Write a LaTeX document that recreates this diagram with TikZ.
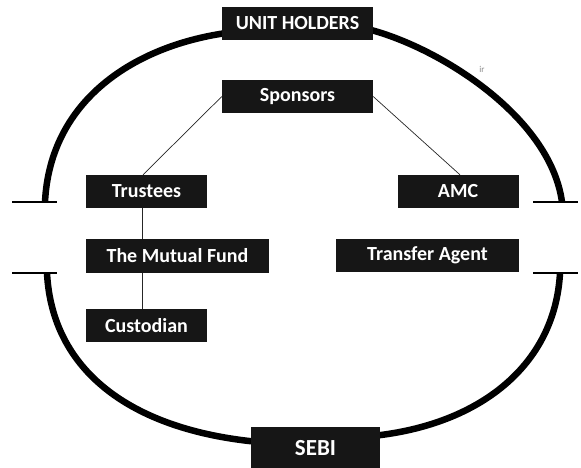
\documentclass[tikz,border=0pt]{standalone}
\usepackage{fontspec}
\setmainfont{Carlito}
\usetikzlibrary{backgrounds}
\definecolor{boxfill}{HTML}{161616}
\tikzset{
  party/.style={fill=boxfill, draw=none, text=white, inner sep=0pt,
    font=\fontsize{20}{22}\selectfont\bfseries, anchor=center},
  ring/.style={line width=6.5pt, black, line cap=butt},
  link/.style={line width=0.7pt, black!85},
  stub/.style={line width=1.5pt, black},
}
\begin{document}
\begin{tikzpicture}[x=1pt, y=-1pt]
  \useasboundingbox (0,0) rectangle (581,467);

  % the parties
  \node[party, minimum width=151pt, minimum height=33pt] (uh) at (297.5,23.5) {\raisebox{-1.5pt}{UNIT HOLDERS}};
  \node[party, minimum width=151pt, minimum height=33pt] (sp) at (297.5,96.5) {\raisebox{-1.5pt}{Sponsors}};
  \node[party, minimum width=121pt, minimum height=33pt] (tr) at (146.5,191.5) {Trustees};
  \node[party, minimum width=183pt, minimum height=34pt] (mf) at (177.5,256) {The Mutual Fund};
  \node[party, minimum width=121pt, minimum height=33pt] (cu) at (146.5,325.5) {Custodian};
  \node[party, minimum width=121pt, minimum height=33pt] (amc) at (458,191.5) {AMC};
  \node[party, minimum width=183pt, minimum height=33pt] (ta) at (427.5,255.5) {\raisebox{-1pt}{Transfer Agent}};
  \node[party, minimum width=129pt, minimum height=42pt,
        font=\fontsize{23}{25}\selectfont\bfseries] (sebi) at (315.5,448) {SEBI};

  \node[text=black!45, font=\fontsize{9}{10}\selectfont, inner sep=0pt] (ir) at (482,69) {ir};

  % ends of the outer ring
  \coordinate (lu) at (45,202);
  \coordinate (ll) at (47,273);
  \coordinate (ru) at (562,202);
  \coordinate (rl) at (560,273);
  \coordinate (spine) at (142,0);

  \begin{scope}[on background layer]
    % outer ring, broken at the sides
    \draw[ring] (lu) .. controls (50,100) and (135,45) .. ([xshift=8pt,yshift=-9pt]uh.west);
    \draw[ring] ([xshift=-8pt,yshift=-5pt]uh.east) .. controls (435,45) and (550,115) .. (ru);
    \draw[ring] (ll) .. controls (52,370) and (130,430) .. ([xshift=8pt,yshift=6pt]sebi.west);
    \draw[ring] (rl) .. controls (555,365) and (480,425) .. ([xshift=-8pt,yshift=12pt]sebi.east);

    % links between the parties
    \draw[link] (sp.west) -- ([xshift=-3.5pt]tr.north);
    \draw[link] (sp.east) -- ([xshift=2pt]amc.north);
    \draw[link] (tr.south -| spine) -- (cu.north -| spine);
  \end{scope}

  % short bars closing the ring ends
  \draw[stub] ([xshift=-33pt]lu) -- ([xshift=12pt]lu);
  \draw[stub] ([xshift=-35pt]ll) -- ([xshift=10pt]ll);
  \draw[stub] ([xshift=-29pt]ru) -- ([xshift=16pt]ru);
  \draw[stub] ([xshift=-27pt]rl) -- ([xshift=18pt]rl);
\end{tikzpicture}
\end{document}
